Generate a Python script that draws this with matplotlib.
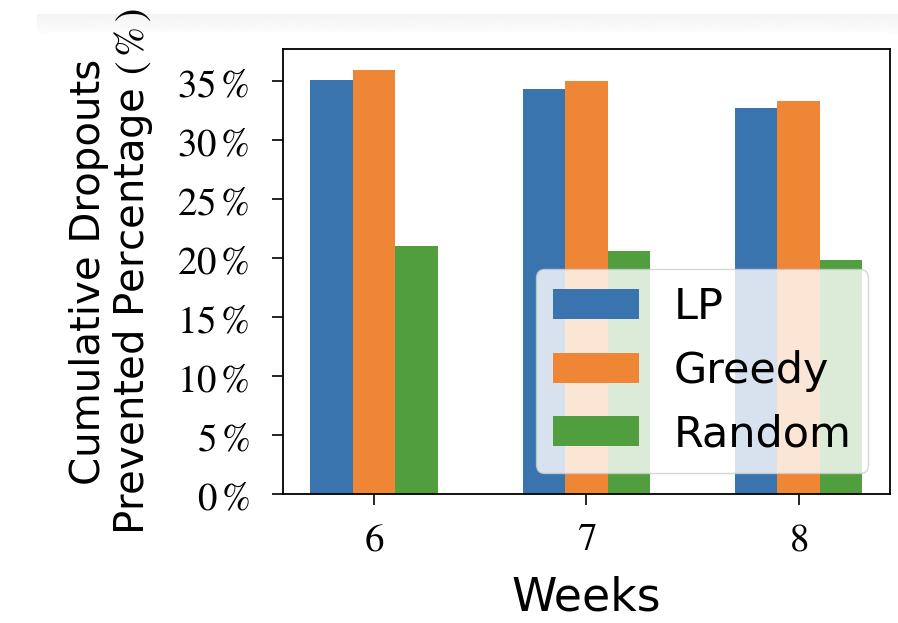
import numpy as np
import matplotlib
matplotlib.use("Agg")
import matplotlib.pyplot as plt
from matplotlib.ticker import FuncFormatter

plt.rcParams["mathtext.fontset"] = "stix"

weeks = ["6", "7", "8"]
series_names = ["LP", "Greedy", "Random"]
lp_values = [35.1, 34.3, 32.7]
greedy_values = [35.9, 35.0, 33.3]
random_values = [21.0, 20.6, 19.8]
colors = ["#3a74af", "#ef8636", "#519e3e"]

fig = plt.figure(figsize=(8.98, 6.23), dpi=100)

# faint grey band along the top edge
band = fig.add_axes([0.041, 0.947, 0.959, 0.030])
band.imshow(np.linspace(0.955, 0.99, 16).reshape(-1, 1), aspect="auto",
            cmap="gray", vmin=0, vmax=1, extent=[0, 1, 0, 1])
band.axis("off")

ax = fig.add_axes([0.315, 0.207, 0.676, 0.714])

x = np.arange(len(weeks))
width = 0.2
for i, (name, vals) in enumerate(zip(series_names, [lp_values, greedy_values, random_values])):
    ax.bar(x + (i - 1) * width, vals, width, label=name, color=colors[i], linewidth=0)

ax.set_xticks(x)
ax.set_xticklabels([f"${w}$" for w in weeks])
ax.set_yticks(np.arange(0, 36, 5))
ax.yaxis.set_major_formatter(FuncFormatter(lambda v, p: r"$%d\,\%%$" % v))

ax.tick_params(axis="both", labelsize=28, length=8, width=1.2)
ax.tick_params(axis="x", pad=11)
ax.tick_params(axis="y", pad=16)
for s in ax.spines.values():
    s.set_linewidth(1.3)

ax.set_xlabel("Weeks", fontsize=33, labelpad=12)
ax.set_ylabel("Cumulative Dropouts\nPrevented Percentage $(\\,\\%\\,)$", fontsize=29,
              labelpad=16, linespacing=1.05)

ax.legend(loc="lower right", fontsize=31, handlelength=2.0, handleheight=0.7,
          labelspacing=0.5, framealpha=0.8, edgecolor="#cccccc")

fig.savefig("out.png", dpi=100)
